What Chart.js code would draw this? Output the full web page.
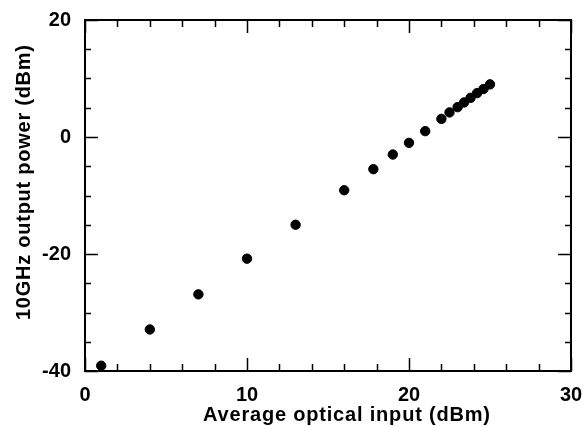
<!DOCTYPE html>
<html><head><meta charset="utf-8">
<script src="https://cdn.jsdelivr.net/npm/chart.js@4/dist/chart.umd.min.js"></script>
<style>html,body{margin:0;padding:0;background:#fff}#wrap{width:586px;height:427px}</style>
</head><body><div id="wrap"><canvas id="c" width="586" height="427"></canvas></div>
<script>
const inputDbm = [1, 4, 7, 10, 13, 16, 17.8, 19, 20, 21, 22, 22.5, 23, 23.4, 23.8, 24.2, 24.6, 25];
const outputDbm = [-39.1, -32.9, -26.9, -20.8, -15, -9.1, -5.5, -3, -1, 1, 3.1, 4.2, 5.1, 5.9, 6.7, 7.5, 8.2, 9];
const xTickLabels = [0, 10, 20, 30];
const yTickLabels = [-40, -20, 0, 20];
const xTitle = 'Average optical input (dBm)';
const yTitle = '10GHz output power (dBm)';

const FONT = '"Liberation Sans", Arial, sans-serif';

function spacedText(ctx, text, x, y, targetWidth) {
  ctx.letterSpacing = '0px';
  const w = ctx.measureText(text).width;
  const sp = Math.max(0, (targetWidth - w) / (text.length - 1));
  ctx.letterSpacing = sp + 'px';
  const w2 = ctx.measureText(text).width;
  ctx.textAlign = 'left';
  ctx.fillText(text, x - w2 / 2 + sp / 2, y);
  ctx.letterSpacing = '0px';
}

const framePlugin = {
  id: 'frame',
  afterDraw(chart) {
    const {ctx, chartArea: a, scales: {x, y}} = chart;
    ctx.save();
    ctx.strokeStyle = '#000';
    ctx.lineWidth = 2;
    ctx.strokeRect(a.left, a.top, a.right - a.left, a.bottom - a.top);
    ctx.lineWidth = 1.5;
    ctx.beginPath();
    for (let v = 0; v <= 30; v += 2) {
      const px = Math.round(x.getPixelForValue(v)) + 0.5;
      const len = xTickLabels.includes(v) ? 13 : 7;
      ctx.moveTo(px, a.bottom); ctx.lineTo(px, a.bottom - len);
      ctx.moveTo(px, a.top); ctx.lineTo(px, a.top + len);
    }
    for (let v = -40; v <= 20; v += 5) {
      const py = Math.round(y.getPixelForValue(v)) + 0.5;
      const len = yTickLabels.includes(v) ? 13 : 6;
      ctx.moveTo(a.left, py); ctx.lineTo(a.left + len, py);
      ctx.moveTo(a.right, py); ctx.lineTo(a.right - len, py);
    }
    ctx.stroke();
    ctx.fillStyle = '#000';
    ctx.font = 'bold 20px ' + FONT;
    ctx.textBaseline = 'alphabetic';
    spacedText(ctx, xTitle, 346.5, 421, 287);
    ctx.translate(30, 182.5);
    ctx.rotate(-Math.PI / 2);
    spacedText(ctx, yTitle, 0, 0, 275);
    ctx.restore();
  }
};

new Chart(document.getElementById('c'), {
  type: 'scatter',
  data: {
    datasets: [{
      data: inputDbm.map((v, i) => ({x: v, y: outputDbm[i]})),
      backgroundColor: '#000',
      borderColor: '#000',
      pointRadius: 4.7,
      pointHoverRadius: 4.7
    }]
  },
  options: {
    responsive: false,
    animation: false,
    events: [],
    layout: {padding: {top: 20, right: 15, left: 0, bottom: 0}},
    plugins: {legend: {display: false}, tooltip: {enabled: false}},
    scales: {
      x: {
        type: 'linear', min: 0, max: 30,
        grid: {display: false, drawTicks: false},
        border: {display: false},
        afterFit(s) { s.height = 56; s.paddingLeft = 0; s.paddingRight = 0; },
        ticks: {
          stepSize: 10, padding: 12, color: '#000',
          font: {family: FONT, size: 20, weight: 'bold'},
          callback: v => xTickLabels.includes(v) ? String(v) : ''
        }
      },
      y: {
        type: 'linear', min: -40, max: 20,
        grid: {display: false, drawTicks: false},
        border: {display: false},
        afterFit(s) { s.width = 85; s.paddingTop = 0; s.paddingBottom = 0; },
        ticks: {
          stepSize: 20, padding: 14, color: '#000',
          font: {family: FONT, size: 20, weight: 'bold'},
          callback: v => yTickLabels.includes(v) ? String(v) : ''
        }
      }
    }
  },
  plugins: [framePlugin]
});
</script>
</body></html>
